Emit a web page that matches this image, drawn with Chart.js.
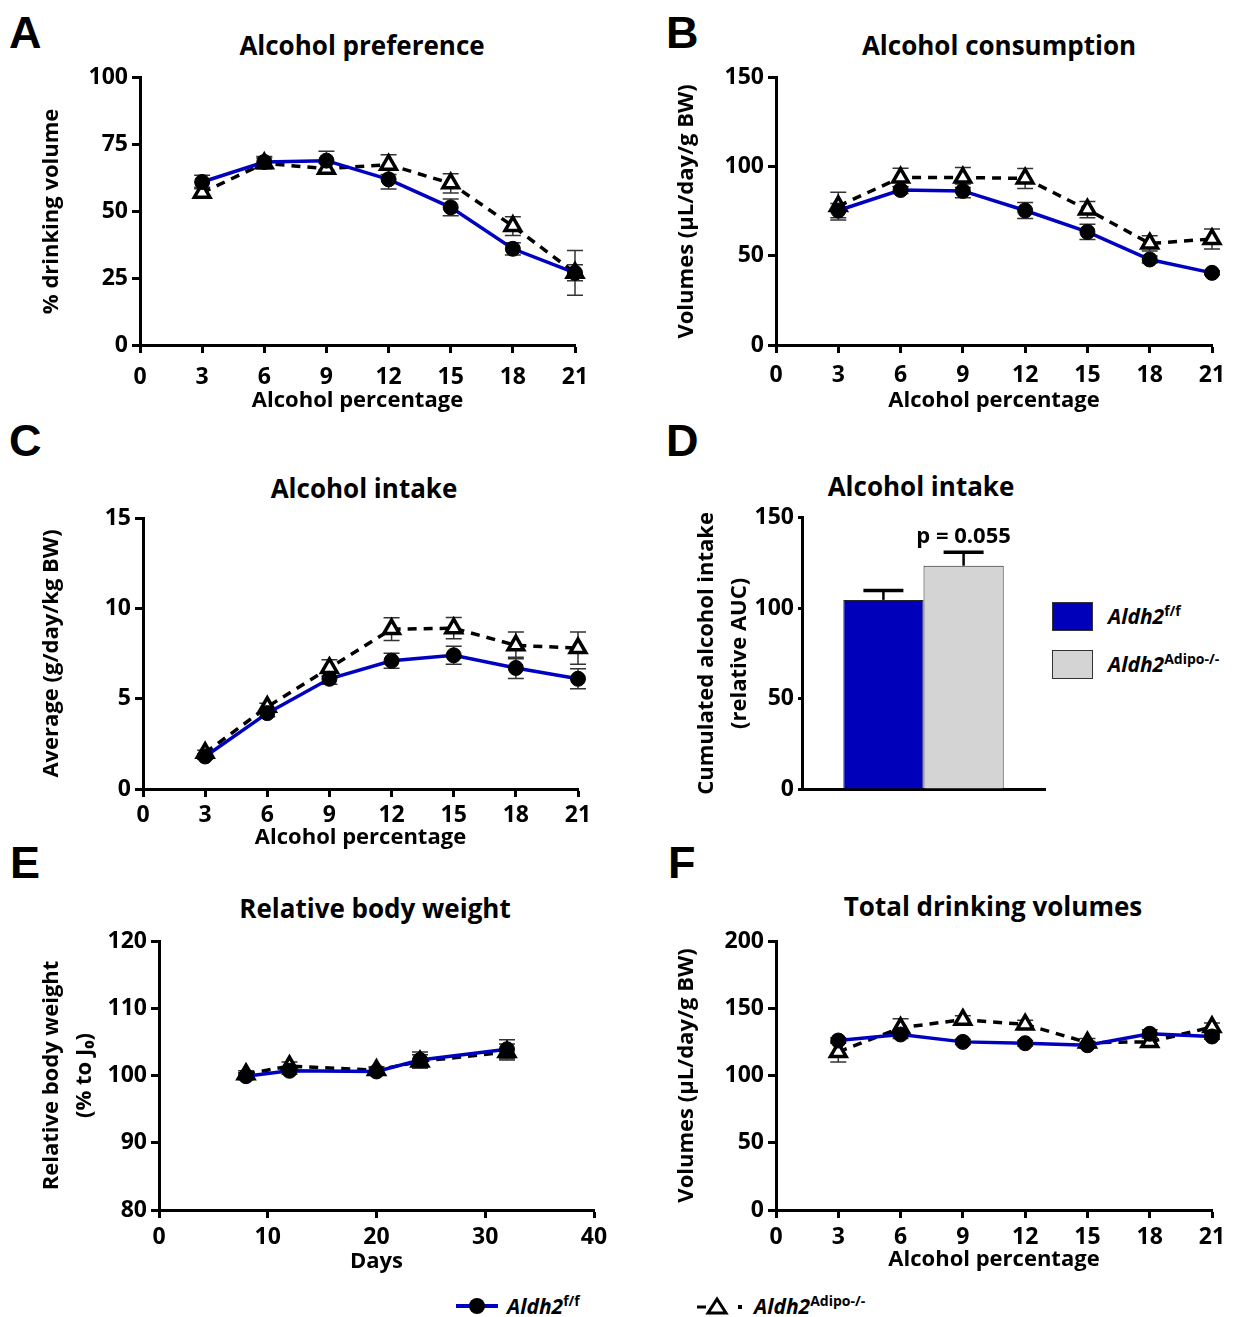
<!DOCTYPE html>
<html>
<head>
<meta charset="utf-8">
<script src="https://cdn.jsdelivr.net/npm/chart.js@4.4.0/dist/chart.umd.min.js"></script>
<style>
  body { margin: 0; background: #fff; width: 1247px; height: 1317px; position: relative; overflow: hidden; font-family: "Open Sans", sans-serif; }
  canvas { position: absolute; }
  .letter { position: absolute; font: bold 45px "Liberation Sans", Arial, sans-serif; line-height: 45px; }
  .title { position: absolute; font: bold 26px "Open Sans", sans-serif; line-height: 31px; transform: translateX(-50%); white-space: nowrap; }
  .leg { position: absolute; font: italic bold 21px "Open Sans", sans-serif; white-space: nowrap; line-height: 26px; }
  .leg sup { font-style: normal; font-size: 14px; vertical-align: 8px; line-height: 0; }
  .box { position: absolute; width: 39px; height: 27px; border: 1px solid #333; }
</style>
</head>
<body>
<div class="letter" style="left:9px;top:10px">A</div>
<div class="letter" style="left:666px;top:10px">B</div>
<div class="letter" style="left:9px;top:418px">C</div>
<div class="letter" style="left:666px;top:418px">D</div>
<div class="letter" style="left:10px;top:840px">E</div>
<div class="letter" style="left:668px;top:840px">F</div>

<div class="title" style="left:362px;top:30px">Alcohol preference</div>
<div class="title" style="left:999px;top:30px">Alcohol consumption</div>
<div class="title" style="left:364px;top:473px">Alcohol intake</div>
<div class="title" style="left:921px;top:471px">Alcohol intake</div>
<div class="title" style="left:375px;top:893px">Relative body weight</div>
<div class="title" style="left:993px;top:891px">Total drinking volumes</div>

<div class="box" style="left:1052px;top:602px;background:#0000bb"></div>
<div class="box" style="left:1052px;top:650px;background:#d4d4d4"></div>
<div class="leg" style="left:1108px;top:603px">Aldh2<sup>f/f</sup></div>
<div class="leg" style="left:1108px;top:651px">Aldh2<sup>Adipo-/-</sup></div>

<svg style="position:absolute;left:440px;top:1290px" width="320" height="30">
  <line x1="16" y1="16" x2="58" y2="16" stroke="#0000c0" stroke-width="4"/>
  <circle cx="37" cy="16" r="8" fill="#000"/>
  <line x1="257" y1="17" x2="266" y2="17" stroke="#000" stroke-width="3"/>
  <polygon points="277,9 286,23 268,23" fill="#fff" stroke="#000" stroke-width="3"/>
  <rect x="298" y="15" width="4" height="4" fill="#000"/>
</svg>
<div class="leg" style="left:507px;top:1293px">Aldh2<sup>f/f</sup></div>
<div class="leg" style="left:754px;top:1293px">Aldh2<sup>Adipo-/-</sup></div>

<script>
// x values
const pct = [3, 6, 9, 12, 15, 18, 21];
const days = [8, 12, 20, 24, 32];

// A - alcohol preference (%)
const prefFF = [61, 68.5, 69, 62, 51.5, 36, 27];
const prefFFErr = [2.5, 2, 3.5, 3.6, 3.1, 2.3, 3];
const prefKO = [57, 68, 66, 67.5, 60.5, 44.5, 27];
const prefKOErr = [2, 2, 2, 3.7, 3.6, 3.5, 8.4];

// B - alcohol consumption (µL/day/g BW)
const consFF = [75.5, 87, 86.5, 75.5, 63.5, 48, 40.5];
const consFFErr = [4, 2, 3.9, 4.5, 4.3, 2, 1];
const consKO = [78, 94, 94, 93.5, 76, 57, 59.5];
const consKOErr = [7.8, 5.2, 5.6, 5.6, 4.6, 4.3, 5.6];

// C - alcohol intake (g/day/kg BW)
const intFF = [1.8, 4.2, 6.1, 7.1, 7.4, 6.7, 6.1];
const intFFErr = [0.15, 0.2, 0.3, 0.42, 0.5, 0.59, 0.55];
const intKO = [2.0, 4.55, 6.7, 8.85, 8.9, 7.95, 7.8];
const intKOErr = [0.15, 0.2, 0.46, 0.63, 0.59, 0.74, 0.89];

// D - cumulated alcohol intake (relative AUC)
const aucGroups = ['Aldh2 f/f', 'Aldh2 Adipo-/-'];
const aucValues = [104.6, 123.5];
const aucErr = [5.2, 7.4];

// E - relative body weight (% to J0)
const bwFF = [99.9, 100.7, 100.6, 102.3, 103.9];
const bwFFErr = [0.5, 0.5, 0.5, 1.2, 1.4];
const bwKO = [100.2, 101.4, 100.8, 102.1, 103.5];
const bwKOErr = [0.5, 0.6, 0.5, 1, 1.2];

// F - total drinking volumes (µL/day/g BW)
const volFF = [126, 130.5, 125, 124, 122.5, 131, 129];
const volFFErr = [2, 3, 2, 2, 2, 3, 2];
const volKO = [117.5, 135.5, 141.5, 138, 124.5, 125, 136];
const volKOErr = [7.4, 6.7, 3, 3, 3, 3, 3];

const FONT = '"Open Sans", sans-serif';
const tickFont = { family: FONT, size: 23, weight: 'bold' };
const axisFont = { family: FONT, size: 22, weight: 'bold', lineHeight: 1.5 };

const errorBars = {
  id: 'errorBars',
  beforeDatasetsDraw(chart) {
    if (chart.config.type !== 'line') return;
    const ctx = chart.ctx, ys = chart.scales.y;
    chart.data.datasets.forEach((ds, i) => {
      const meta = chart.getDatasetMeta(i);
      ctx.save();
      ctx.strokeStyle = '#333';
      ctx.lineWidth = 1.5;
      meta.data.forEach((pt, j) => {
        const v = ds.data[j].y, e = ds.errors[j];
        const t = ys.getPixelForValue(v + e), b = ys.getPixelForValue(v - e);
        ctx.beginPath();
        ctx.moveTo(pt.x, t); ctx.lineTo(pt.x, b);
        ctx.moveTo(pt.x - 8, t); ctx.lineTo(pt.x + 8, t);
        ctx.moveTo(pt.x - 8, b); ctx.lineTo(pt.x + 8, b);
        ctx.stroke();
      });
      ctx.restore();
    });
  },
  afterDatasetsDraw(chart) {
    if (chart.config.type !== 'bar') return;
    const ctx = chart.ctx, ys = chart.scales.y;
    ctx.save();
    chart.data.datasets.forEach((ds, i) => {
      const bar = chart.getDatasetMeta(i).data[0];
      const t = ys.getPixelForValue(ds.data[0] + ds.errors[0]);
      ctx.strokeStyle = '#000';
      ctx.lineWidth = 2.5;
      ctx.beginPath();
      ctx.moveTo(bar.x, bar.y); ctx.lineTo(bar.x, t);
      ctx.stroke();
      ctx.lineWidth = 3.5;
      ctx.beginPath();
      ctx.moveTo(bar.x - 20, t); ctx.lineTo(bar.x + 20, t);
      ctx.stroke();
      if (i === 1) {
        ctx.fillStyle = '#000';
        ctx.font = 'bold 22px ' + FONT;
        ctx.textAlign = 'center';
        ctx.textBaseline = 'alphabetic';
        ctx.fillText('p = 0.055', bar.x, t - 9);
      }
    });
    ctx.restore();
  }
};
Chart.register(errorBars);

function addCanvas(box) {
  const c = document.createElement('canvas');
  c.width = box[2]; c.height = box[3];
  c.style.left = box[0] + 'px'; c.style.top = box[1] + 'px';
  c.style.width = box[2] + 'px'; c.style.height = box[3] + 'px';
  document.body.appendChild(c);
  return c;
}

// box = [left, top, width, height]; area = [left, top, right, bottom] in page pixels
function yAxis(box, area, min, max, step, title, titleX, tickLen) {
  return {
    type: 'linear', min: min, max: max,
    ticks: { stepSize: step, color: '#000', font: tickFont, padding: 4 },
    grid: { drawOnChartArea: false, tickLength: tickLen || 8, tickWidth: 3, tickColor: '#000' },
    border: { color: '#000', width: 3 },
    title: { display: true, text: title, color: '#000', font: axisFont,
             padding: { top: titleX - box[0] - 16.5, bottom: 0 } },
    afterFit: s => { s.width = area[0] - box[0]; }
  };
}

function lineChart(box, area, xs, xMax, xStep, ff, ffErr, ko, koErr, yMin, yMax, yStep, yTitle, yTitleX, xTitle, xTitleY, tickPad) {
  const bottomH = box[1] + box[3] - area[3];
  new Chart(addCanvas(box), {
    type: 'line',
    data: {
      datasets: [
        { data: xs.map((x, i) => ({ x: x, y: ff[i] })), errors: ffErr,
          borderColor: '#0000c0', borderWidth: 3.5, pointStyle: 'circle', pointRadius: 7.5,
          pointBackgroundColor: '#000', pointBorderColor: '#000', pointBorderWidth: 1, clip: false },
        { data: xs.map((x, i) => ({ x: x, y: ko[i] })), errors: koErr,
          borderColor: '#000', borderWidth: 3.5, borderDash: [9, 7], pointStyle: 'triangle', pointRadius: 9,
          pointBackgroundColor: '#fff', pointBorderColor: '#000', pointBorderWidth: 3.5, clip: false }
      ]
    },
    options: {
      responsive: false, animation: false,
      layout: { padding: { left: 0, top: area[1] - box[1], right: box[0] + box[2] - area[2], bottom: 0 } },
      plugins: { legend: { display: false }, tooltip: { enabled: false } },
      scales: {
        x: {
          type: 'linear', min: 0, max: xMax,
          ticks: { stepSize: xStep, color: '#000', font: tickFont, padding: tickPad },
          grid: { drawOnChartArea: false, tickLength: 8, tickWidth: 3, tickColor: '#000' },
          border: { color: '#000', width: 3 },
          title: { display: true, text: xTitle, color: '#000', font: { family: FONT, size: 22, weight: 'bold', lineHeight: 1.2 },
                   padding: { top: 0, bottom: box[1] + box[3] - xTitleY - 13.2 } },
          afterFit: s => { s.height = bottomH; }
        },
        y: yAxis(box, area, yMin, yMax, yStep, yTitle, yTitleX)
      }
    }
  });
}

lineChart([0, 60, 620, 370], [140, 76, 575, 345], pct, 21, 3, prefFF, prefFFErr, prefKO, prefKOErr,
  0, 100, 25, '% drinking volume', 52, 'Alcohol percentage', 401, 11);
lineChart([630, 60, 617, 370], [776, 76, 1212, 345], pct, 21, 3, consFF, consFFErr, consKO, consKOErr,
  0, 150, 50, 'Volumes (µL/day/g BW)', 687, 'Alcohol percentage', 401, 9);
lineChart([0, 500, 620, 360], [143, 518, 578, 789], pct, 21, 3, intFF, intFFErr, intKO, intKOErr,
  0, 15, 5, 'Average (g/day/kg BW)', 52, 'Alcohol percentage', 838, 5);
lineChart([0, 920, 620, 370], [159, 941, 594, 1210], days, 40, 10, bwFF, bwFFErr, bwKO, bwKOErr,
  80, 120, 10, ['Relative body weight', '(% to J₀)'], 52, 'Days', 1262, 6);
lineChart([630, 920, 617, 370], [776, 941, 1212, 1210], pct, 21, 3, volFF, volFFErr, volKO, volKOErr,
  0, 200, 50, 'Volumes (µL/day/g BW)', 687, 'Alcohol percentage', 1260, 6);

// D - bar chart
const boxD = [630, 500, 430, 330], areaD = [802, 517, 1045, 789];
new Chart(addCanvas(boxD), {
  type: 'bar',
  data: {
    labels: [''],
    datasets: [
      { label: aucGroups[0], data: [aucValues[0]], errors: [aucErr[0]], backgroundColor: '#0000bb',
        borderColor: '#222', borderWidth: 1 },
      { label: aucGroups[1], data: [aucValues[1]], errors: [aucErr[1]], backgroundColor: '#d4d4d4',
        borderColor: '#222', borderWidth: 1 }
    ]
  },
  options: {
    responsive: false, animation: false,
    layout: { padding: { left: 0, top: areaD[1] - boxD[1], right: boxD[0] + boxD[2] - areaD[2], bottom: 0 } },
    plugins: { legend: { display: false }, tooltip: { enabled: false } },
    datasets: { bar: { categoryPercentage: 0.66, barPercentage: 1 } },
    scales: {
      x: {
        ticks: { display: false },
        grid: { display: false },
        border: { color: '#000', width: 3 },
        afterFit: s => { s.height = boxD[1] + boxD[3] - areaD[3]; }
      },
      y: yAxis(boxD, areaD, 0, 150, 50, ['Cumulated alcohol intake', '(relative AUC)'], 707, 4)
    }
  }
});
</script>
</body>
</html>
